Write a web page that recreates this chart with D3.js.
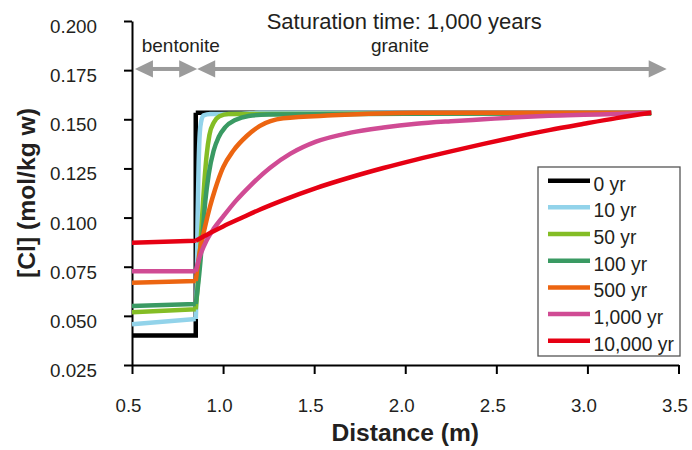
<!DOCTYPE html>
<html>
<head>
<meta charset="utf-8">
<script src="https://cdn.jsdelivr.net/npm/d3@7"></script>
<style>
  body { margin: 0; background: #fff; }
  svg text { font-family: 'Liberation Sans', Arial, sans-serif; fill: #231f20; }
</style>
</head>
<body>
<div id="chart"></div>
<script>
// Chloride profiles after a 1,000 yr saturation time, bentonite (0.5-0.85 m) + granite

const seriesNames = ['0 yr', '10 yr', '50 yr', '100 yr', '500 yr', '1,000 yr', '10,000 yr']
const xTicks = [0.5, 1.0, 1.5, 2.0, 2.5, 3.0, 3.5]
const yTicks = [0.025, 0.05, 0.075, 0.1, 0.125, 0.15, 0.175, 0.2]

// [distance (m), [Cl] (mol/kg w)] - bentonite side
const bent0 = [[0.5, 0.040], [0.85, 0.040]]
const bent10 = [[0.5, 0.0457], [0.85, 0.0484]]
const bent50 = [[0.5, 0.0518], [0.85, 0.0533]]
const bent100 = [[0.5, 0.0550], [0.85, 0.0560]]
const bent500 = [[0.5, 0.0669], [0.85, 0.0677]]
const bent1000 = [[0.5, 0.0727], [0.85, 0.0727]]
const bent10000 = [[0.5, 0.0872], [0.85, 0.0882]]

// granite side
const gran0 = [[0.85, 0.1533], [3.35, 0.1533]]
const gran10 = [[0.85, 0.0484], [0.855, 0.065], [0.86, 0.100], [0.866, 0.128], [0.872, 0.143],
  [0.88, 0.149], [0.893, 0.152], [0.93, 0.1527], [1.1, 0.1528], [1.2, 0.1533], [3.35, 0.1533]]
const gran50 = [[0.85, 0.0533], [0.858, 0.062], [0.868, 0.075], [0.878, 0.090], [0.888, 0.105],
  [0.898, 0.119], [0.91, 0.132], [0.925, 0.142], [0.95, 0.1485], [0.98, 0.1515], [1.03, 0.1527], [3.35, 0.153]]
const gran100 = [[0.85, 0.056], [0.862, 0.065], [0.875, 0.077], [0.888, 0.092], [0.902, 0.108],
  [0.921, 0.122], [0.948, 0.134], [0.976, 0.141], [1.012, 0.146], [1.067, 0.1496], [1.14, 0.1517],
  [1.25, 0.1524], [2.0, 0.1528], [3.35, 0.153]]
const gran500 = [[0.85, 0.0677], [0.873, 0.0835], [0.90, 0.095], [0.928, 0.1055], [0.955, 0.114],
  [1.0, 0.1255], [1.056, 0.134], [1.13, 0.1415], [1.2, 0.1465], [1.33, 0.1505], [1.6, 0.152],
  [2.06, 0.1533], [3.35, 0.1533]]
const gran1000 = [[0.85, 0.0727], [0.865, 0.078], [0.88, 0.0822], [0.91, 0.0885], [0.95, 0.0945],
  [1.0, 0.1005], [1.07, 0.1085], [1.15, 0.1163], [1.26, 0.1255], [1.37, 0.1325], [1.51, 0.1386],
  [1.70, 0.1432], [1.88, 0.1458], [2.06, 0.1477], [2.25, 0.149], [2.43, 0.150], [2.61, 0.151],
  [2.79, 0.1518], [2.98, 0.1523], [3.16, 0.1527], [3.35, 0.1533]]
const gran10000 = [[0.85, 0.0882], [0.9, 0.0907], [0.95, 0.0932], [1.0, 0.0955], [1.1, 0.0998],
  [1.2, 0.104], [1.33, 0.1089], [1.51, 0.115], [1.70, 0.1205], [1.88, 0.1252], [2.06, 0.1295],
  [2.25, 0.1337], [2.43, 0.1375], [2.61, 0.1411], [2.79, 0.1445], [2.98, 0.1477], [3.16, 0.1506],
  [3.35, 0.1533]]

const bentonite = [bent0, bent10, bent50, bent100, bent500, bent1000, bent10000]
const granite = [gran0, gran10, gran50, gran100, gran500, gran1000, gran10000]

// zone arrows along the top
const zoneNames = ['bentonite', 'granite']
const zoneFrom = [0.516, 0.858]
const zoneTo = [0.858, 3.435]
const zoneLabelAt = [0.768, 1.971]
const zoneLevel = 0.1756
const chartTitle = 'Saturation time: 1,000 years'

const lineColors = ['#000000', '#92d3ea', '#84bd25', '#3a9a63', '#ec6511', '#d04b94', '#e60013']

const width = 692
const height = 450
const margin = { top: 21, right: 13.5, bottom: 85, left: 132 }
const w = width - margin.left - margin.right
const h = height - margin.top - margin.bottom

const svg = d3.select('#chart').append('svg')
  .attr('width', width)
  .attr('height', height)

const g = svg.append('g')
  .attr('transform', 'translate(' + margin.left + ',' + margin.top + ')')

const x = d3.scaleLinear().domain([0.5, 3.5]).range([0, w])
const y = d3.scaleLinear().domain([0.025, 0.2]).range([h, 0])

// axes
const xAxis = g.append('g')
  .attr('transform', 'translate(0,' + h + ')')
  .call(d3.axisBottom(x).tickValues(xTicks).tickSize(9).tickSizeOuter(0).tickFormat(d3.format('.1f')))
xAxis.selectAll('text')
  .attr('y', 33.4)
  .attr('x', -4)
  .style('font-size', '18.7px')

const yAxis = g.append('g')
  .call(d3.axisLeft(y).tickValues(yTicks).tickSize(8).tickSizeOuter(0).tickFormat(d3.format('.3f')))
yAxis.selectAll('text')
  .attr('x', -35)
  .attr('y', 5.5)
  .style('font-size', '18.8px')

g.selectAll('.domain, .tick line')
  .attr('stroke', '#000')
  .attr('stroke-width', 2)
g.selectAll('.tick text').attr('fill', '#231f20')

g.append('text')
  .attr('transform', 'translate(-97,' + h / 2 + ') rotate(-90)')
  .attr('text-anchor', 'middle')
  .style('font-size', '24.7px')
  .style('font-weight', 'bold')
  .text('[Cl] (mol/kg w)')

g.append('text')
  .attr('x', w / 2)
  .attr('y', h + 76)
  .attr('text-anchor', 'middle')
  .style('font-size', '24.6px')
  .style('font-weight', 'bold')
  .text('Distance (m)')

// profiles
const straight = d3.line().x(d => x(d[0])).y(d => y(d[1]))
const smooth = d3.line().x(d => x(d[0])).y(d => y(d[1])).curve(d3.curveMonotoneX)

g.append('g').selectAll('path')
  .data(seriesNames)
  .enter()
  .append('path')
  .attr('d', (d, i) => straight(bentonite[i].concat([granite[i][0]])) + smooth(granite[i]))
  .attr('fill', 'none')
  .attr('stroke', (d, i) => lineColors[i])
  .attr('stroke-width', 4.5)
  .attr('stroke-linejoin', 'miter')

// zone arrows
const arrowColor = '#9b9b9b'
const headLen = 18
const headHalf = 8.6
const zones = g.append('g')
zoneNames.forEach((name, i) => {
  const x0 = x(zoneFrom[i])
  const x1 = x(zoneTo[i])
  const ay = y(zoneLevel)
  zones.append('line')
    .attr('x1', x0 + headLen - 2).attr('x2', x1 - headLen + 2)
    .attr('y1', ay).attr('y2', ay)
    .attr('stroke', arrowColor)
    .attr('stroke-width', 4)
  zones.append('polygon')
    .attr('points', [[x0, ay], [x0 + headLen, ay - headHalf], [x0 + headLen, ay + headHalf]].join(' '))
    .attr('fill', arrowColor)
  zones.append('polygon')
    .attr('points', [[x1, ay], [x1 - headLen, ay - headHalf], [x1 - headLen, ay + headHalf]].join(' '))
    .attr('fill', arrowColor)
  zones.append('text')
    .attr('x', x(zoneLabelAt[i]))
    .attr('y', 31.3)
    .attr('text-anchor', 'middle')
    .style('font-size', '19px')
    .text(name)
})

g.append('text')
  .attr('x', w / 2 - 1)
  .attr('y', 8.3)
  .attr('text-anchor', 'middle')
  .style('font-size', '22px')
  .text(chartTitle)

// legend
const legend = g.append('g').attr('transform', 'translate(406,146)')
legend.append('rect')
  .attr('width', 142)
  .attr('height', 189)
  .attr('fill', '#fff')
  .attr('stroke', '#555')
  .attr('stroke-width', 1.3)

const items = legend.selectAll('g.item')
  .data(seriesNames)
  .enter()
  .append('g')
  .attr('class', 'item')
  .attr('transform', (d, i) => 'translate(0,' + (13.7 + i * 26.67) + ')')
items.append('line')
  .attr('x1', 10).attr('x2', 52)
  .attr('stroke', (d, i) => lineColors[i])
  .attr('stroke-width', 4.5)
items.append('text')
  .attr('x', 55.5)
  .attr('y', 10)
  .style('font-size', '19.3px')
  .text(d => d)
</script>
</body>
</html>
